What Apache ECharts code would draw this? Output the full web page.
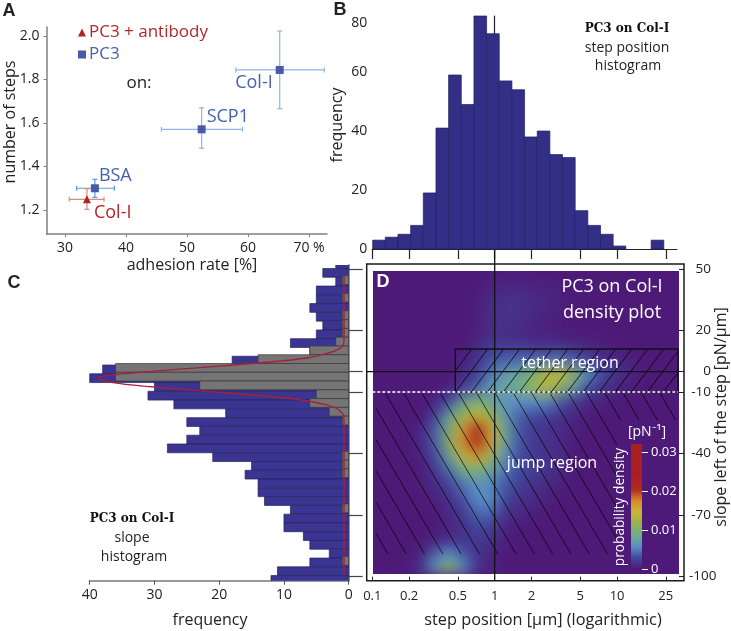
<!DOCTYPE html>
<html>
<head>
<meta charset="utf-8">
<title>PC3 step analysis</title>
<script src="https://cdn.jsdelivr.net/npm/echarts@6/dist/echarts.min.js"></script>
<style>
  html, body { margin: 0; padding: 0; background: #fff; }
  #densityBox { position: absolute; left: 372.5px; top: 271px; width: 306px; height: 303px; overflow: hidden; background: #4e1a78; z-index: 1; }
  #density { width: 306px; height: 303px; filter: blur(7px); }
  #main { position: absolute; left: 0; top: 0; width: 731px; height: 631px; z-index: 2; }
</style>
</head>
<body>
<div id="densityBox"><div id="density"></div></div>
<div id="main"></div>
<script>
// panel A, points with their error bars
const pc3Names = ['Col-I', 'SCP1', 'BSA'];
const pc3Rate = [65.2, 52.4, 34.9];
const pc3Steps = [1.844, 1.571, 1.30];
const pc3RateLow = [58, 45.8, 31.9];
const pc3RateHigh = [72.5, 59.1, 38.1];
const pc3StepsLow = [1.666, 1.484, 1.258];
const pc3StepsHigh = [2.023, 1.67, 1.341];
const antibodyRate = [33.6];
const antibodySteps = [1.249];
const antibodyRateLow = [30.7];
const antibodyRateHigh = [36.4];
const antibodyStepsLow = [1.203];
const antibodyStepsHigh = [1.298];

// panel B, log-spaced bins starting at 0.1 um
const stepFreq = [3, 4, 5, 8, 19, 41, 59, 49, 79, 73, 57, 54, 38, 40, 32, 31, 13, 8, 5, 1, 0, 0, 3];
const stepBinWidth = 0.1034;
const positionTicks = [0.1, 0.2, 0.5, 1, 2, 5, 10, 25];

// panel C, rows from the top, slope in pN/um
const slopeFreq = [2, 4, 2, 5, 5, 6, 5, 4, 5, 9, 6, 18, 38, 40, 30, 31, 27, 19, 25, 23, 25, 28, 21, 15, 16, 14, 14, 13, 9, 10, 10, 7, 6, 3, 6, 11, 12];
const antibodyFreq = [1, 0, 1, 0, 1, 1, 1, 2, 6, 14, 36, 36, 23, 5, 6, 3, 1, 0, 0, 0, 1, 1, 1, 0, 0, 0, 1, 0, 0, 0, 0, 0, 1, 0, 0];
const slopeBinHeight = 4.28;
const slopeTop = 54.58;
const antibodyTop = 46.75;
const slopeTicks = [50, 20, 0, -10, -40, -70, -100];
const fitFreq = [0.72, 0.72, 0.93, 1.85, 3.4, 6, 10.1, 17.8, 28.1, 35.8, 38.7, 38.4, 36.4, 31.7, 23, 12.7, 6.5, 3.1, 1.6, 0.8, 0.72, 0.72];
const fitSlope = [46.7, 15.4, 12.4, 10.5, 8.9, 6.9, 5.3, 3.2, 0.7, -1.4, -2.8, -3.8, -5.4, -7.1, -9.4, -12, -14.2, -16.5, -18.5, -21.4, -25.3, -99.3];

// panel D, density in 1e-3 / pN, rows top to bottom, columns left to right
const density = [
  [0, 0, 0, 0, 0, 0, 0, 0, 0.2, 0.4, 0.4, 0.2, 0, 0, 0, 0, 0, 0, 0, 0, 0, 0],
  [0, 0, 0, 0, 0, 0, 0, 0.2, 0.7, 1, 1.2, 0.8, 0.7, 0.4, 0, 0, 0, 0, 0, 0, 0, 0],
  [0, 0, 0, 0, 0, 0, 0, 0.3, 1.1, 1.5, 1.5, 1.1, 0.8, 0.4, 0, 0, 0, 0, 0, 0, 0, 0],
  [0, 0, 0, 0, 0, 0, 0, 0.4, 1.1, 1.5, 1.2, 0.8, 0.4, 0.2, 0, 0, 0, 0, 0, 0, 0, 0],
  [0, 0, 0, 0, 0, 0, 0, 0.4, 1.2, 1.2, 0.8, 0.6, 0.4, 0.2, 0, 0, 0, 0, 0, 0, 0, 0],
  [0, 0, 0, 0, 0, 0, 0, 1, 2, 2, 2, 1.5, 1.5, 1.5, 1, 0.8, 0.3, 0, 0, 0, 0, 0],
  [0, 0, 0, 0, 0, 0, 0.5, 1.5, 3.5, 4, 4.5, 4.5, 5, 5, 4, 2.5, 1.5, 1, 0.5, 0, 0, 0],
  [0, 0, 0, 0, 0, 0, 1, 2.5, 5, 7, 8, 10, 14, 14.5, 11, 6, 3, 1.5, 0.8, 0, 0, 0],
  [0, 0, 0, 0, 0, 0.5, 2, 4, 7, 8, 9, 12, 14, 11, 7, 3, 1.5, 0.8, 0, 0, 0, 0],
  [0, 0, 0, 0, 0.8, 3, 8, 10, 8, 6, 6, 6, 6, 3.5, 2, 1, 0.5, 0, 0, 0, 0, 0],
  [0, 0, 0, 0, 2.5, 8, 12, 15, 12, 7, 4, 3, 2.5, 1.5, 0.8, 0, 0, 0, 0, 0, 0, 0],
  [0, 0, 0, 0.8, 4, 10, 17, 24, 16, 8, 3.5, 2, 1.5, 1, 0.5, 0, 0, 0, 0, 0, 0, 0],
  [0, 0, 0, 0.8, 4, 11, 18, 24, 16, 8, 3.5, 2, 1.5, 1, 0, 0, 0, 0, 0, 0, 0, 0],
  [0, 0, 0, 0.5, 3, 8, 14, 17, 12, 6, 3, 2, 1.5, 1, 0, 0, 0, 0, 0, 0, 0, 0],
  [0, 0, 0, 0, 2, 4.5, 9, 10, 7.5, 5, 3, 2.5, 1.5, 1, 0, 0, 0, 0, 0, 0, 0, 0],
  [0, 0, 0, 0.5, 1, 2.5, 5, 6.5, 5.5, 3.5, 2.5, 1.5, 1, 0.5, 0, 0, 0, 0, 0, 0, 0, 0],
  [0, 0, 0, 0, 0.5, 1.5, 3.5, 6, 6, 3, 1.5, 1, 0.5, 0, 0, 0, 0, 0, 0, 0, 0, 0],
  [0, 0, 0, 0, 0, 1, 2, 4.5, 4.5, 1.5, 1, 0.5, 0, 0, 0, 0, 0, 0, 0, 0, 0, 0],
  [0, 0, 0, 0, 0, 0.8, 1.5, 3, 2.5, 0.8, 0, 0, 0, 0, 0, 0, 0, 0, 0, 0, 0, 0],
  [0, 0, 0, 0, 0.5, 1, 1.5, 2, 1.5, 0.5, 0, 0, 0, 0, 0, 0, 0, 0, 0, 0, 0, 0],
  [0, 0, 0, 0.5, 4, 6, 3.5, 1.5, 0.8, 0, 0, 0, 0, 0, 0, 0, 0, 0, 0, 0, 0, 0],
  [0, 0, 0, 2, 7, 11, 6, 1.5, 0.5, 0, 0, 0, 0, 0, 0, 0, 0, 0, 0, 0, 0, 0]
];
const densityColors = ['#4e1a78', '#3f4a9e', '#5b8fc6', '#6fb086', '#95b24e', '#c9b632', '#d98a2c', '#b02a20', '#a82020', '#a82020', '#a82020', '#a81f1f'];
const densityTicks = [0, 0.01, 0.02, 0.03];
const tetherRegion = [-0.322, 11, 1.4976, -10];

const FONT = '"Open Sans", sans-serif';
const INK = '#222';

// the density map sits in its own chart underneath, blurred by css
const heatData = [];
density.forEach((row, i) => row.forEach((v, j) => heatData.push([j, i, v])));
const heatChart = echarts.init(document.getElementById('density'));
heatChart.setOption({
  animation: false,
  grid: {left: 0, right: 0, top: 0, bottom: 0, outerBoundsMode: 'none'},
  xAxis: {type: 'category', show: false, data: density[0].map((_, j) => j)},
  yAxis: {type: 'category', show: false, inverse: true, data: density.map((_, i) => i)},
  visualMap: {show: false, min: 0, max: 33, inRange: {color: densityColors}},
  series: [{type: 'heatmap', data: heatData, progressive: 0}]
});

function errorBars(color) {
  return function (params, api) {
    const cap = 2.5;
    const c = api.coord([api.value(0), api.value(1)]);
    const l = api.coord([api.value(2), api.value(1)]);
    const r = api.coord([api.value(3), api.value(1)]);
    const b = api.coord([api.value(0), api.value(4)]);
    const t = api.coord([api.value(0), api.value(5)]);
    const col = Array.isArray(color) ? color[params.dataIndex] : color;
    const seg = (x1, y1, x2, y2) => ({
      type: 'line', shape: {x1, y1, x2, y2},
      style: {stroke: col, lineWidth: 1.2, fill: null}
    });
    return {type: 'group', children: [
      seg(l[0], c[1], r[0], c[1]), seg(c[0], b[1], c[0], t[1]),
      seg(l[0], c[1] - cap, l[0], c[1] + cap), seg(r[0], c[1] - cap, r[0], c[1] + cap),
      seg(c[0] - cap, b[1], c[0] + cap, b[1]), seg(c[0] - cap, t[1], c[0] + cap, t[1])
    ]};
  };
}

function zipErr(rate, steps, lo, hi, sLo, sHi) {
  return rate.map((r, i) => [r, steps[i], lo[i], hi[i], sLo[i], sHi[i]]);
}

function rectBetween(p, q, style) {
  return {
    type: 'rect',
    shape: {x: Math.min(p[0], q[0]), y: Math.min(p[1], q[1]), width: Math.abs(p[0] - q[0]), height: Math.abs(p[1] - q[1])},
    style: style
  };
}

// hatching of the two regions, the tether box is "/" and the jump region "\"
function tetherHatch(params, api) {
  const tl = api.coord([api.value(0), api.value(1)]);
  const br = api.coord([api.value(2), api.value(3)]);
  const slope = 1.33;
  const run = (br[1] - tl[1]) / slope;
  const children = [];
  for (let k = -2; tl[0] + 16 * k < br[0]; k++) {
    const xb = tl[0] + 16 * k;
    let x1 = xb, y1 = br[1], x2 = xb + run, y2 = tl[1];
    if (x1 < tl[0]) { x1 = tl[0]; y1 = br[1] - (x1 - xb) * slope; }
    if (x2 > br[0]) { x2 = br[0]; y2 = br[1] - (x2 - xb) * slope; }
    children.push({type: 'line', shape: {x1, y1, x2, y2}, style: {stroke: '#000', lineWidth: 0.8, fill: null}});
  }
  children.push(rectBetween(tl, br, {fill: 'none', stroke: '#111', lineWidth: 1.4}));
  return {type: 'group', children};
}

function jumpHatch(params, api) {
  const origin = api.coord([-1, -10]);
  const floorY = api.coord([0, -89])[1];
  const slope = 1.71;
  const children = [];
  const leftX = origin[0] + 3.7;
  const topY = origin[1] + 1.5;
  for (let k = 0; k <= 20; k++) {
    const xb = origin[0] + 15.7 + 18.3 * k;
    const at = y => xb - (floorY - y) / slope;
    let y1 = topY;
    if (at(y1) < leftX) y1 = floorY - (xb - leftX) * slope;
    let y2 = floorY;
    if (xb > 617) y2 = Math.max(floorY - (xb - 617) * slope, 420);
    children.push({type: 'line', shape: {x1: at(y1), y1, x2: at(y2), y2}, style: {stroke: '#000', lineWidth: 0.7, fill: null}});
  }
  return {type: 'group', children};
}

const option = {
  animation: false,
  textStyle: {fontFamily: FONT, color: INK},
  legend: {
    orient: 'vertical', left: 73, top: 19, itemWidth: 8, itemHeight: 8, itemGap: 5,
    selectedMode: false,
    data: [
      {name: 'PC3 + antibody', icon: 'triangle', textStyle: {color: '#b3262a'}},
      {name: 'PC3', icon: 'rect', textStyle: {color: '#4463ad'}}
    ],
    textStyle: {fontFamily: FONT, fontSize: 17, padding: [0, 0, 0, -2]}
  },
  grid: [
    {left: 46.5, top: 27, width: 280.5, height: 207, outerBoundsMode: 'none'},
    {left: 372.3, top: 16, width: 304.7, height: 233, outerBoundsMode: 'none'},
    {left: 89.7, top: 265, width: 259, height: 315.7, outerBoundsMode: 'none'},
    {left: 366.7, top: 264, width: 317.3, height: 316.7, outerBoundsMode: 'none', show: true, borderColor: '#1a1a1a', borderWidth: 1.5, backgroundColor: 'transparent'},
    {left: 631, top: 444, width: 11, height: 125, outerBoundsMode: 'none'}
  ],
  xAxis: [
    {
      gridIndex: 0, type: 'value', min: 26.97, max: 72.95, splitLine: {show: false},
      axisLine: {lineStyle: {color: '#808080', width: 1.5}},
      axisTick: {length: 3, lineStyle: {color: '#808080'}, customValues: [30, 40, 50, 60, 70]},
      axisLabel: {customValues: [30, 40, 50, 60, 70], fontSize: 14, color: INK, margin: 7, fontFamily: FONT, formatter: v => v === 70 ? '70 %' : v}
    },
    {
      gridIndex: 1, type: 'value', min: -1, max: 1.489, splitLine: {show: false},
      axisLine: {lineStyle: {color: '#222', width: 1.2}},
      axisTick: {length: 10, lineStyle: {color: '#222', width: 1.2}, customValues: positionTicks.map(Math.log10)},
      axisLabel: {show: false}
    },
    {
      gridIndex: 2, type: 'value', inverse: true, min: 0, max: 40, interval: 10, splitLine: {show: false},
      axisLine: {onZero: false, lineStyle: {color: '#999', width: 2}},
      axisTick: {length: 4, lineStyle: {color: '#555'}},
      axisLabel: {fontSize: 14, color: INK, margin: 7, fontFamily: FONT}
    },
    {
      gridIndex: 3, type: 'value', min: -1.0458, max: 1.5466, splitLine: {show: false},
      axisLine: {onZero: false, show: false},
      axisTick: {inside: true, length: 4, lineStyle: {color: '#222'}, customValues: positionTicks.map(Math.log10)},
      axisLabel: {
        customValues: positionTicks.map(Math.log10), fontSize: 13, color: INK, margin: 9, fontFamily: FONT,
        formatter: v => String(+Math.pow(10, v).toFixed(1))
      }
    },
    {gridIndex: 4, type: 'category', data: ['density'], show: false}
  ],
  yAxis: [
    {
      gridIndex: 0, type: 'value', min: 1.0897, max: 2.0414, splitLine: {show: false},
      axisLine: {show: true, lineStyle: {color: '#808080', width: 1.5}},
      axisTick: {show: true, length: 3, lineStyle: {color: '#808080'}, customValues: [1.2, 1.4, 1.6, 1.8, 2]},
      axisLabel: {customValues: [1.2, 1.4, 1.6, 1.8, 2], fontSize: 14, color: INK, margin: 7, fontFamily: FONT, formatter: v => v.toFixed(1)}
    },
    {
      gridIndex: 1, type: 'value', min: 0, max: 79, splitLine: {show: false},
      axisLine: {show: true, lineStyle: {color: '#222', width: 1.2}},
      axisTick: {show: false},
      axisLabel: {
        customValues: [0, 20, 40, 60, 79], fontSize: 14, color: INK, margin: 5, fontFamily: FONT,
        verticalAlignMaxLabel: 'top', formatter: v => Math.round(v / 20) * 20
      }
    },
    {
      gridIndex: 2, type: 'value', position: 'right', min: -102, max: 52, splitLine: {show: false},
      axisLine: {show: true, onZero: false, lineStyle: {color: '#999', width: 2}},
      axisTick: {show: true, length: 14, lineStyle: {color: '#444', width: 1.2}, customValues: slopeTicks},
      axisLabel: {show: false}
    },
    {
      gridIndex: 3, type: 'value', position: 'right', min: -102, max: 52.5, splitLine: {show: false},
      axisLine: {show: false, onZero: false},
      axisTick: {show: true, inside: true, length: 5, lineStyle: {color: '#222'}, customValues: slopeTicks},
      axisLabel: {
        customValues: slopeTicks, fontSize: 13.5, color: INK, margin: 5, fontFamily: FONT,
        formatter: v => v === -100 ? String(v) : '{n|' + v + '}',
        rich: {n: {width: 22, align: 'right', fontSize: 13.5, fontFamily: FONT, color: INK}}
      }
    },
    {
      gridIndex: 4, type: 'value', position: 'right', min: 0, max: 0.032, splitLine: {show: false},
      axisLine: {show: false},
      axisTick: {show: true, length: 6, lineStyle: {color: '#fff', width: 1}, customValues: densityTicks},
      axisLabel: {customValues: densityTicks, fontSize: 13, color: '#fff', margin: 9, fontFamily: FONT}
    }
  ],
  series: [
    // A
    {
      type: 'custom', xAxisIndex: 0, yAxisIndex: 0, silent: true, z: 2,
      data: zipErr(pc3Rate, pc3Steps, pc3RateLow, pc3RateHigh, pc3StepsLow, pc3StepsHigh),
      renderItem: errorBars(['#8fb6e6', '#8fb6e6', '#4f9fe2'])
    },
    {
      type: 'custom', xAxisIndex: 0, yAxisIndex: 0, silent: true, z: 3,
      data: zipErr(antibodyRate, antibodySteps, antibodyRateLow, antibodyRateHigh, antibodyStepsLow, antibodyStepsHigh),
      renderItem: errorBars('#d98a82')
    },
    {
      name: 'PC3', type: 'scatter', xAxisIndex: 0, yAxisIndex: 0, symbol: 'rect', symbolSize: 8, z: 4,
      itemStyle: {color: '#4a5aa8', opacity: 1},
      label: {show: true, color: '#4463ad', fontSize: 18, fontFamily: FONT, formatter: p => pc3Names[p.dataIndex]},
      data: [
        {value: [pc3Rate[0], pc3Steps[0]], label: {position: 'left', offset: [2, 13]}},
        {value: [pc3Rate[1], pc3Steps[1]], label: {position: 'right', offset: [-4, -12]}},
        {value: [pc3Rate[2], pc3Steps[2]], label: {position: 'right', offset: [-5, -12]}}
      ]
    },
    {
      name: 'PC3 + antibody', type: 'scatter', xAxisIndex: 0, yAxisIndex: 0, symbol: 'triangle', symbolSize: 8, z: 5,
      itemStyle: {color: '#b3241f', opacity: 1},
      label: {show: true, position: 'right', offset: [-2, 14], color: '#b3262a', fontSize: 18, fontFamily: FONT, formatter: 'Col-I'},
      data: antibodyRate.map((r, i) => [r, antibodySteps[i]])
    },
    // B
    {
      type: 'custom', xAxisIndex: 1, yAxisIndex: 1, silent: true, z: 2,
      data: stepFreq.map((v, i) => [i, v]),
      renderItem: (params, api) => {
        if (!api.value(1)) return null;
        const i = api.value(0);
        return rectBetween(
          api.coord([-1 + i * stepBinWidth + 0.003, api.value(1)]),
          api.coord([-1 + (i + 1) * stepBinWidth + 0.003, 0]),
          {fill: '#332f87', stroke: '#23205f', lineWidth: 0.7}
        );
      }
    },
    // C
    {
      type: 'custom', xAxisIndex: 2, yAxisIndex: 2, silent: true, z: 2, clip: true,
      data: slopeFreq.map((v, i) => [i, v]),
      renderItem: (params, api) => {
        const i = api.value(0);
        return rectBetween(
          api.coord([api.value(1), slopeTop - i * slopeBinHeight]),
          api.coord([0, slopeTop - (i + 1) * slopeBinHeight]),
          {fill: '#3a3590', stroke: '#26235f', lineWidth: 0.7}
        );
      }
    },
    {
      type: 'custom', xAxisIndex: 2, yAxisIndex: 2, silent: true, z: 3, clip: true,
      data: antibodyFreq.map((v, i) => [i, v]),
      renderItem: (params, api) => {
        if (!api.value(1)) return null;
        const i = api.value(0);
        return rectBetween(
          api.coord([api.value(1), antibodyTop - i * slopeBinHeight]),
          api.coord([0, antibodyTop - (i + 1) * slopeBinHeight]),
          {fill: '#757575', stroke: '#3b3b3b', lineWidth: 0.7}
        );
      }
    },
    {
      type: 'line', xAxisIndex: 2, yAxisIndex: 2, symbol: 'none', silent: true, z: 4, smooth: 0.2,
      lineStyle: {color: '#a81f3a', width: 1.4},
      data: fitFreq.map((f, i) => [f, fitSlope[i]])
    },
    // D, the crosshair runs out of the frame into B and C
    {
      type: 'line', xAxisIndex: 3, yAxisIndex: 3, symbol: 'none', silent: true, z: 5, clip: false,
      lineStyle: {color: '#111', width: 1.3}, data: [[-1.19, 0], [1.4976, 0]]
    },
    {
      type: 'line', xAxisIndex: 3, yAxisIndex: 3, symbol: 'none', silent: true, z: 5, clip: false,
      lineStyle: {color: '#111', width: 1.3}, data: [[0, 59.3], [0, -102]]
    },
    {
      type: 'line', xAxisIndex: 3, yAxisIndex: 3, symbol: 'none', silent: true, z: 6,
      lineStyle: {color: '#fff', width: 1.5, type: [3, 2]}, data: [[-1, -10], [1.4976, -10]]
    },
    {
      type: 'custom', xAxisIndex: 3, yAxisIndex: 3, silent: true, z: 4, clip: false,
      data: [tetherRegion], renderItem: tetherHatch
    },
    {
      type: 'custom', xAxisIndex: 3, yAxisIndex: 3, silent: true, z: 4, clip: false,
      data: [[-1, -10]], renderItem: jumpHatch
    },
    // colour bar
    {
      type: 'bar', xAxisIndex: 4, yAxisIndex: 4, silent: true, z: 6, barWidth: '100%',
      itemStyle: {color: new echarts.graphic.LinearGradient(0, 1, 0, 0, densityColors.map((color, i) => ({offset: i / (densityColors.length - 1), color})))},
      data: [0.032]
    }
  ],
  graphic: [
    panelLetter('A', 9, 11, INK),
    panelLetter('B', 340, 10, INK),
    panelLetter('C', 14, 283, INK),
    panelLetter('D', 383, 282, '#fff'),
    note('on:', 139, 83, 17, INK),
    note('PC3 on Col-I', 627, 29, 12, '#111', 'bold', '"DejaVu Serif", serif'),
    note('step position', 627, 48, 14, INK),
    note('histogram', 628, 66, 14, INK),
    note('PC3 on Col-I', 132, 519, 12, '#111', 'bold', '"DejaVu Serif", serif'),
    note('slope', 132, 538, 14, INK),
    note('histogram', 134, 557, 14, INK),
    note('adhesion rate [%]', 192, 265, 16, INK),
    Object.assign(note('number of steps', 0, 0, 16, INK), {x: 10, y: 122, rotation: Math.PI / 2}),
    Object.assign(note('frequency', 0, 0, 16, INK), {x: 337, y: 125, rotation: Math.PI / 2}),
    note('frequency', 210, 620, 16, INK),
    note('step position [\u00b5m] (logarithmic)', 543, 620, 16.3, INK),
    Object.assign(note('slope left of the step [pN/\u00b5m]', 0, 0, 16, INK), {x: 721, y: 417, rotation: Math.PI / 2}),
    note('PC3 on Col-I', 612, 287, 18, '#fff'),
    note('density plot', 612, 313, 18, '#fff'),
    note('tether region', 570, 363, 16, '#fff'),
    note('jump region', 552, 463, 16, '#fff'),
    note('[pN\u207b\u00b9]', 647, 432, 14, '#fff'),
    Object.assign(note('probability density', 0, 0, 13.7, '#fff'), {x: 620, y: 507, rotation: Math.PI / 2})
  ]
};

function note(text, x, y, size, fill, weight, family) {
  return {
    type: 'text', x, y, z: 20, silent: true,
    style: {text, fill, textAlign: 'center', textVerticalAlign: 'middle', font: (weight || 'normal') + ' ' + size + 'px ' + (family || FONT)}
  };
}

function panelLetter(text, x, y, fill) {
  return note(text, x, y, 18, fill, 'bold', '"Liberation Sans", sans-serif');
}

const chart = echarts.init(document.getElementById('main'));
chart.setOption(option);
</script>
</body>
</html>
